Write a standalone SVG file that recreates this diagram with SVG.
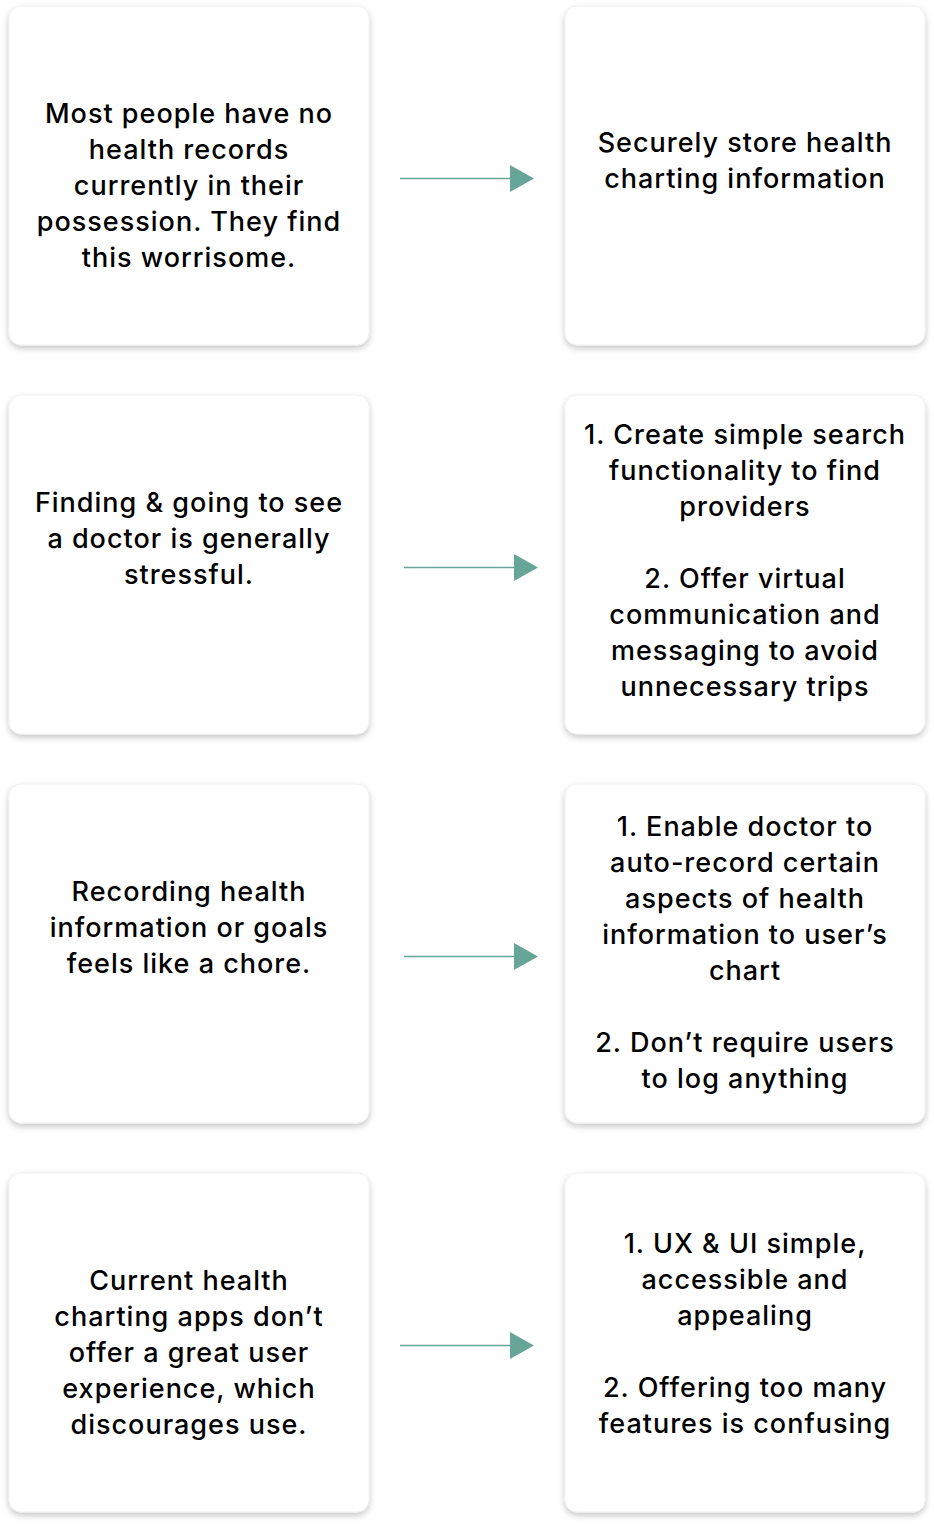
<svg xmlns="http://www.w3.org/2000/svg" width="934" height="1524" viewBox="0 0 934 1524">
<style>
.card{fill:#fff;stroke:#f0f0f0;stroke-width:1;filter:url(#sh)}
.t{font-family:Inter,"Noto Sans",sans-serif;font-size:27px;font-weight:500;fill:#000;text-anchor:middle;letter-spacing:1px}
.c{stroke:#66a597;stroke-width:1.5;fill:none}
.h{fill:#66a597}
</style>
<defs>
<filter id="sh" x="-10%" y="-10%" width="120%" height="125%">
<feDropShadow dx="0" dy="3" stdDeviation="3" flood-color="#000" flood-opacity="0.22"/>
</filter>
</defs>
<rect width="934" height="1524" fill="#fff"/>
<g id="n1"><rect class="card" x="9" y="6" width="360" height="339" rx="12"/>
<text class="t"><tspan x="189" y="123">Most people have no</tspan><tspan x="189" y="159">health records</tspan><tspan x="189" y="195">currently in their</tspan><tspan x="189" y="231">possession. They find</tspan><tspan x="189" y="267">this worrisome.</tspan></text></g>
<g id="n2"><rect class="card" x="565" y="6" width="360" height="339" rx="12"/>
<text class="t"><tspan x="745" y="152">Securely store health</tspan><tspan x="745" y="188">charting information</tspan></text></g>
<g id="n3"><rect class="card" x="9" y="395" width="360" height="339" rx="12"/>
<text class="t"><tspan x="189" y="512">Finding &amp; going to see</tspan><tspan x="189" y="548">a doctor is generally</tspan><tspan x="189" y="584">stressful.</tspan></text></g>
<g id="n4"><rect class="card" x="565" y="395" width="360" height="339" rx="12"/>
<text class="t"><tspan x="745" y="444">1. Create simple search</tspan><tspan x="745" y="480">functionality to find</tspan><tspan x="745" y="516">providers</tspan><tspan x="745" y="588">2. Offer virtual</tspan><tspan x="745" y="624">communication and</tspan><tspan x="745" y="660">messaging to avoid</tspan><tspan x="745" y="696">unnecessary trips</tspan></text></g>
<g id="n5"><rect class="card" x="9" y="784" width="360" height="339" rx="12"/>
<text class="t"><tspan x="189" y="901">Recording health</tspan><tspan x="189" y="937">information or goals</tspan><tspan x="189" y="973">feels like a chore.</tspan></text></g>
<g id="n6"><rect class="card" x="565" y="784" width="360" height="339" rx="12"/>
<text class="t"><tspan x="745" y="836">1. Enable doctor to</tspan><tspan x="745" y="872">auto-record certain</tspan><tspan x="745" y="908">aspects of health</tspan><tspan x="745" y="944">information to user’s</tspan><tspan x="745" y="980">chart</tspan><tspan x="745" y="1052">2. Don’t require users</tspan><tspan x="745" y="1088">to log anything</tspan></text></g>
<g id="n7"><rect class="card" x="9" y="1173" width="360" height="339" rx="12"/>
<text class="t"><tspan x="189" y="1290">Current health</tspan><tspan x="189" y="1326">charting apps don’t</tspan><tspan x="189" y="1362">offer a great user</tspan><tspan x="189" y="1398">experience, which</tspan><tspan x="189" y="1434">discourages use.</tspan></text></g>
<g id="n8"><rect class="card" x="565" y="1173" width="360" height="339" rx="12"/>
<text class="t"><tspan x="745" y="1253">1. UX &amp; UI simple,</tspan><tspan x="745" y="1289">accessible and</tspan><tspan x="745" y="1325">appealing</tspan><tspan x="745" y="1397">2. Offering too many</tspan><tspan x="745" y="1433">features is confusing</tspan></text></g>
<g id="connectors">
<line class="c" x1="400" y1="178.5" x2="512" y2="178.5"/><polygon class="h" points="510,165 534,178.5 510,192"/>
<line class="c" x1="404" y1="567.5" x2="516" y2="567.5"/><polygon class="h" points="514,554 538,567.5 514,581"/>
<line class="c" x1="404" y1="956.5" x2="516" y2="956.5"/><polygon class="h" points="514,943 538,956.5 514,970"/>
<line class="c" x1="400" y1="1345.5" x2="512" y2="1345.5"/><polygon class="h" points="510,1332 534,1345.5 510,1359"/>
</g>
</svg>
